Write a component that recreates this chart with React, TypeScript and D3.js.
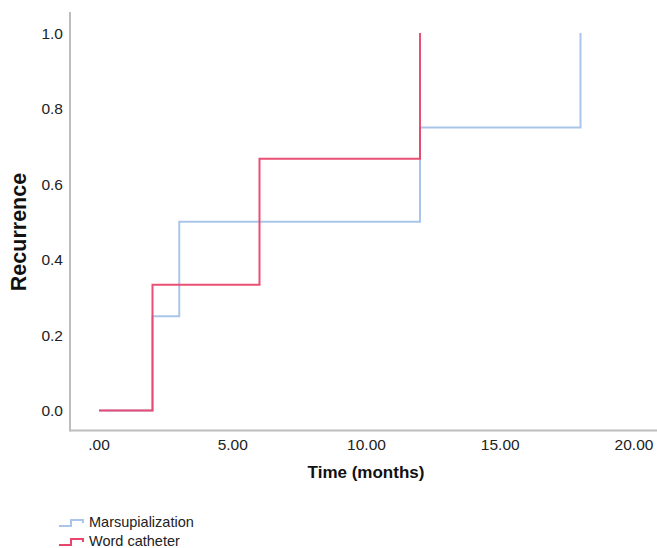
import React from "react";
import * as d3 from "d3";

const xTicks = [0, 5, 10, 15, 20];
const yTicks = [0, 0.2, 0.4, 0.6, 0.8, 1.0];

const marsTimes = [0, 2, 3, 12, 18, 18];
const marsValues = [0, 0.25, 0.5, 0.75, 1.0, 1.0];
const wordTimes = [0, 2, 6, 12, 12];
const wordValues = [0, 0.3333, 0.6667, 1.0, 1.0];

const seriesNames = ["Marsupialization", "Word catheter"];
const seriesColors = ["#a9c6ea", "#e9466d"];

const W = 657;
const H = 548;

export default function App() {
  const x = d3.scaleLinear().domain([0, 20]).range([99, 634]);
  const y = d3.scaleLinear().domain([0, 1]).range([410.5, 33]);
  const axisLeft = 70;
  const axisBottom = 430.5;
  const font = "Liberation Sans, Arial, Helvetica, sans-serif";

  const stepLine = d3
    .line<[number, number]>()
    .x((d) => x(d[0]))
    .y((d) => y(d[1]))
    .curve(d3.curveStepAfter);

  const marsPts: [number, number][] = marsTimes.map((t, i) => [t, marsValues[i]]);
  const wordPts: [number, number][] = wordTimes.map((t, i) => [t, wordValues[i]]);

  const legendY = [522, 541];

  return (
    <svg
      width={W}
      height={H}
      style={{ position: "absolute", left: 0, top: 0, background: "#fff" }}
      fontFamily={font}
    >
      {/* axes */}
      <line x1={axisLeft} y1={12} x2={axisLeft} y2={axisBottom + 1} stroke="#bdbdbd" strokeWidth={2} />
      <line x1={axisLeft} y1={axisBottom} x2={W} y2={axisBottom} stroke="#bdbdbd" strokeWidth={2} />

      {yTicks.map((v) => (
        <text key={"y" + v} x={63} y={y(v)} fontSize={15.5} textAnchor="end" dominantBaseline="central" fill="#222">
          {v.toFixed(1)}
        </text>
      ))}
      {xTicks.map((v) => (
        <text key={"x" + v} x={x(v)} y={444} fontSize={15.5} textAnchor="middle" dominantBaseline="central" fill="#222">
          {v === 0 ? ".00" : v.toFixed(2)}
        </text>
      ))}

      <text x={366} y={478} fontSize={17} fontWeight="bold" textAnchor="middle" fill="#111">
        Time (months)
      </text>
      <text
        transform={`translate(26,232) rotate(-90)`}
        fontSize={21.5}
        fontWeight="bold"
        textAnchor="middle"
        fill="#111"
      >
        Recurrence
      </text>

      {/* series */}
      <path d={stepLine(marsPts) || ""} fill="none" stroke={seriesColors[0]} strokeWidth={2} />
      <path d={stepLine(wordPts) || ""} fill="none" stroke={seriesColors[1]} strokeWidth={2} opacity={0.95} />

      {/* legend */}
      {seriesNames.map((name, i) => {
        const cy = legendY[i];
        const d = `M59,${cy + 4} H71 V${cy - 2} H83 V${cy + 1}`;
        return (
          <g key={name}>
            <path d={d} fill="none" stroke={seriesColors[i]} strokeWidth={2} />
            <text x={89} y={cy} fontSize={14.5} dominantBaseline="central" fill="#222">
              {name}
            </text>
          </g>
        );
      })}
    </svg>
  );
}
